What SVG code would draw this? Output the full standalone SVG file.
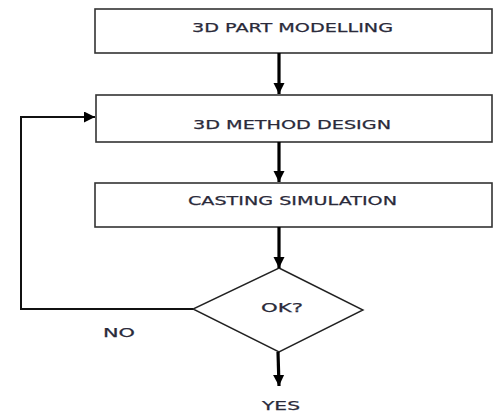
<svg xmlns="http://www.w3.org/2000/svg" width="494" height="417" viewBox="0 0 494 417">
<style>
.box{fill:#fff;stroke:#333;stroke-width:1.6}
.t{font-family:"DejaVu Sans",Verdana,sans-serif;font-size:13px;fill:#2a2a3a;text-anchor:middle;dominant-baseline:central;stroke:#2a2a3a;stroke-width:0.25}
.main{stroke:#000;stroke-width:3.2;fill:none}
.thin{stroke:#111;stroke-width:2;fill:none}
</style>
<defs>
<marker id="ah" viewBox="0 0 10 10" refX="10" refY="5" markerWidth="3.5" markerHeight="4.8" markerUnits="strokeWidth" orient="auto">
<path d="M0,0 L10,5 L0,10 z" fill="#000"/>
</marker>
<marker id="ah2" viewBox="0 0 10 10" refX="10" refY="5" markerWidth="6.5" markerHeight="5.5" markerUnits="strokeWidth" orient="auto">
<path d="M0,0 L10,5 L0,10 z" fill="#000"/>
</marker>
</defs>
<g id="n1"><rect class="box" x="95" y="9" width="397" height="44"/><text class="t" x="292.5" y="27" textLength="201" lengthAdjust="spacingAndGlyphs">3D PART MODELLING</text></g>
<g id="n2"><rect class="box" x="96" y="95" width="396" height="47"/><text class="t" x="292" y="124" textLength="198" lengthAdjust="spacingAndGlyphs">3D METHOD DESIGN</text></g>
<g id="n3"><rect class="box" x="95" y="183" width="397" height="44"/><text class="t" x="292.5" y="200" textLength="209" lengthAdjust="spacingAndGlyphs">CASTING SIMULATION</text></g>
<g id="n4"><polygon points="279,268 363,310 279,352 193,309" fill="#fff" stroke="#222" stroke-width="1.4"/><text class="t" x="282" y="307" font-size="15" textLength="42" lengthAdjust="spacingAndGlyphs">OK?</text></g>
<g id="labels">
<text class="t" x="119" y="332" font-size="15" textLength="32" lengthAdjust="spacingAndGlyphs">NO</text>
<text class="t" x="281" y="405" font-size="15" textLength="38" lengthAdjust="spacingAndGlyphs">YES</text>
</g>
<g id="connectors">
<line class="main" x1="279" y1="53" x2="279" y2="94" marker-end="url(#ah)"/>
<line class="main" x1="279" y1="142" x2="279" y2="182" marker-end="url(#ah)"/>
<line class="main" x1="279" y1="227" x2="279" y2="268" marker-end="url(#ah)"/>
<line class="main" x1="278" y1="352" x2="279" y2="386" marker-end="url(#ah)"/>
<polyline class="thin" points="193,309 21,309 21,117 95,117" marker-end="url(#ah2)"/>
</g>
</svg>
